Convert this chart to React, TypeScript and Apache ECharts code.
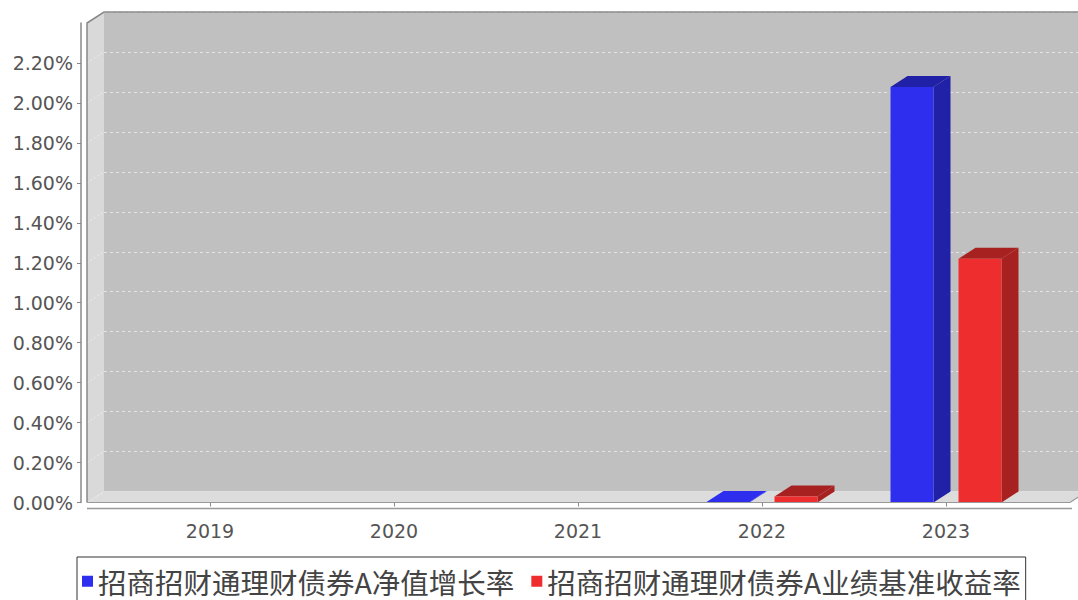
import React, { useEffect, useRef } from "react";
import * as echarts from "echarts";

const categories = ["2019", "2020", "2021", "2022", "2023"];
const navGrowth: (number | null)[] = [null, null, null, 0.003, 2.08];
const benchmark: (number | null)[] = [null, null, null, 0.03, 1.22];
const yTicks = [0, 0.2, 0.4, 0.6, 0.8, 1.0, 1.2, 1.4, 1.6, 1.8, 2.0, 2.2];
const seriesNames = ["招商招财通理财债券A净值增长率", "招商招财通理财债券A业绩基准收益率"];
const seriesColors = ["#2e2eee", "#ee2e2e"];
const seriesDark = ["#2121a8", "#a82121"];

const DX = 17;
const DY = 11;
const Y_MAX = 2.4;

function makeBar(offsetFrac: number, widthFrac: number, front: string, dark: string) {
  return (params: any, api: any) => {
    const idx = api.value(0);
    const v = api.value(1);
    if (v == null || isNaN(v)) return null;
    const base = api.coord([idx, 0]);
    const top = api.coord([idx, v]);
    const bw = api.size([1, 0])[0];
    const x0 = base[0] + offsetFrac * bw;
    const x1 = x0 + widthFrac * bw;
    const y0 = base[1];
    const yT = top[1];
    const flat = y0 - yT < 1.5;
    return {
      type: "group",
      children: [
        {
          type: "polygon",
          shape: { points: [[x1, yT], [x1 + DX, yT - DY], [x1 + DX, y0 - DY], [x1, y0]] },
          style: { fill: flat ? front : dark },
        },
        {
          type: "polygon",
          shape: { points: [[x0, yT], [x1, yT], [x1 + DX, yT - DY], [x0 + DX, yT - DY]] },
          style: { fill: flat ? front : dark },
        },
        {
          type: "rect",
          shape: { x: x0, y: yT, width: x1 - x0, height: Math.max(0, y0 - yT) },
          style: { fill: front },
        },
      ],
    };
  };
}

export default function App() {
  const ref = useRef<HTMLDivElement>(null);
  useEffect(() => {
    document.body.style.margin = "0";
    if (!ref.current) return;
    const chart = echarts.init(ref.current, undefined, { renderer: "svg" });
    const axisFont = { fontFamily: "DejaVu Sans", fontSize: 19, color: "#555" };
    const option: any = {
      animation: false,
      backgroundColor: "#ffffff",
      grid: [
        { left: 118, right: 40, top: 23, bottom: 97.5, show: false },
        { left: 104, width: 983, top: 12, bottom: 108.5, show: true, backgroundColor: "#c0c0c0", borderWidth: 0, z: 0 },
      ],
      xAxis: [
        {
          type: "category",
          gridIndex: 0,
          data: categories,
          offset: 6,
          axisLine: { show: false },
          axisTick: { show: true, alignWithLabel: true, length: 4, lineStyle: { color: "#888" } },
          axisLabel: { ...axisFont, margin: 13 },
          splitLine: { show: false },
        },
        {
          type: "category",
          gridIndex: 1,
          data: categories,
          axisLine: { show: false },
          axisTick: { show: false },
          axisLabel: { show: false },
          splitLine: { show: false },
        },
      ],
      yAxis: [
        {
          type: "value",
          gridIndex: 0,
          min: 0,
          max: Y_MAX,
          interval: 0.2,
          offset: 37,
          axisLine: { show: true, lineStyle: { color: "#888", width: 1.5 } },
          axisTick: { show: true, length: 4, lineStyle: { color: "#888" } },
          axisLabel: {
            ...axisFont,
            margin: 8,
            showMaxLabel: false,
            formatter: (v: number) => v.toFixed(2) + "%",
          },
          splitLine: { show: false },
        },
        {
          type: "value",
          gridIndex: 1,
          min: 0,
          max: Y_MAX,
          interval: 0.2,
          axisLine: { show: false },
          axisTick: { show: false },
          axisLabel: { show: false },
          splitLine: { show: true, lineStyle: { color: "#e4e4e4", width: 1, type: [3, 3] } },
        },
      ],
      legend: {
        left: 77,
        top: 557,
        orient: "horizontal",
        itemWidth: 11,
        itemHeight: 11,
        itemGap: 17,
        borderColor: "#333",
        borderWidth: 1,
        padding: [10, 5, 10, 5],
        textStyle: { fontFamily: "Noto Sans CJK SC", fontSize: 28.5, lineHeight: 28, color: "#444" },
        data: seriesNames.map((n) => ({ name: n, icon: "rect" })),
      },
      graphic: [
        {
          type: "polygon",
          z: 1,
          shape: { points: [[87, 23], [104, 12], [104, 491.5], [87, 502.5]] },
          style: { fill: "#d9d9d9" },
          silent: true,
        },
        {
          type: "polygon",
          z: 1,
          shape: { points: [[87, 502.5], [104, 491.5], [1087, 491.5], [1070, 502.5]] },
          style: { fill: "#dcdcdc" },
          silent: true,
        },
        {
          type: "polyline",
          z: 5,
          shape: { points: [[87, 502.5], [87, 23], [104, 12], [1090, 12]] },
          style: { stroke: "#888", lineWidth: 1.5, fill: null },
          silent: true,
        },
        {
          type: "polyline",
          z: 5,
          shape: { points: [[87, 502.5], [1070, 502.5], [1087, 491.5]] },
          style: { stroke: "#999", lineWidth: 1.2, fill: null },
          silent: true,
        },
        {
          type: "line",
          z: 5,
          shape: { x1: 87, y1: 508.5, x2: 1072, y2: 508.5 },
          style: { stroke: "#999", lineWidth: 1.5 },
          silent: true,
        },
      ],
      series: [
        {
          type: "custom",
          name: "walls",
          xAxisIndex: 0,
          yAxisIndex: 0,
          silent: true,
          z: 2,
          data: yTicks.map((v) => [0, v]),
          renderItem: (params: any, api: any) => {
            const y = api.coord([0, api.value(1)])[1];
            const x = params.coordSys.x - 31;
            return {
              type: "line",
              shape: { x1: x, y1: y, x2: x + DX, y2: y - DY },
              style: { stroke: "#ececec", lineWidth: 1, lineDash: [2, 2] },
            };
          },
        },
        {
          type: "custom",
          name: seriesNames[0],
          xAxisIndex: 0,
          yAxisIndex: 0,
          z: 3,
          itemStyle: { color: seriesColors[0] },
          data: navGrowth.map((v, i) => [i, v == null ? NaN : v]),
          renderItem: makeBar(-0.3016, 0.2337, seriesColors[0], seriesDark[0]),
        },
        {
          type: "custom",
          name: seriesNames[1],
          xAxisIndex: 0,
          yAxisIndex: 0,
          z: 3,
          itemStyle: { color: seriesColors[1] },
          data: benchmark.map((v, i) => [i, v == null ? NaN : v]),
          renderItem: makeBar(0.068, 0.2337, seriesColors[1], seriesDark[1]),
        },
      ],
    };
    chart.setOption(option);
    return () => chart.dispose();
  }, []);
  return <div ref={ref} style={{ width: 1078, height: 600 }} />;
}
